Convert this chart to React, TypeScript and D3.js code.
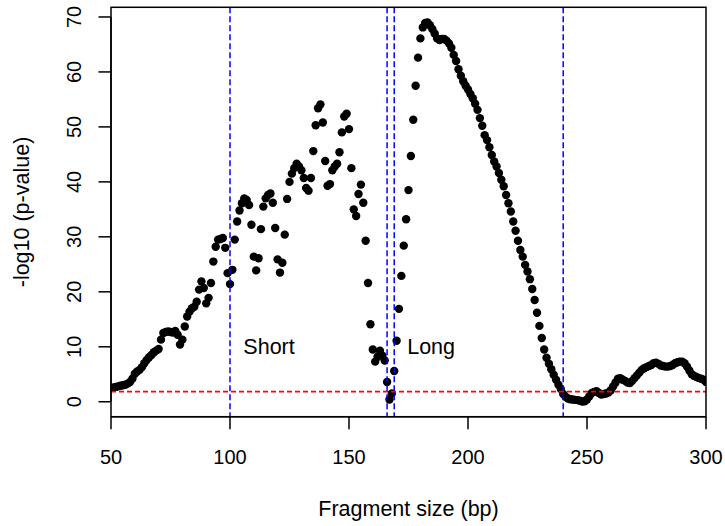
import React from "react";
import * as d3 from "d3";

// Fragment sizes (bp) and -log10(p-value)
const fragmentSizes = [
  50, 51, 52, 53, 54, 55, 56, 57, 58, 59, 60, 61, 62, 63, 64, 65, 66, 67, 68, 69,
  70, 71, 72, 73, 74, 75, 76, 77, 78, 79, 80, 81, 82, 83, 84, 85, 86, 87, 88, 89,
  90, 91, 92, 93, 94, 95, 96, 97, 98, 99, 100, 101, 102, 103, 104, 105, 106, 107, 108, 109,
  110, 111, 112, 113, 114, 115, 116, 117, 118, 119, 120, 121, 122, 123, 124, 125, 126, 127, 128, 129,
  130, 131, 132, 133, 134, 135, 136, 137, 138, 139, 140, 141, 142, 143, 144, 145, 146, 147, 148, 149,
  150, 151, 152, 153, 154, 155, 156, 157, 158, 159, 160, 161, 162, 163, 164, 165, 166, 167, 168, 169,
  170, 171, 172, 173, 174, 175, 176, 177, 178, 179, 180, 181, 182, 183, 184, 185, 186, 187, 188, 189,
  190, 191, 192, 193, 194, 195, 196, 197, 198, 199, 200, 201, 202, 203, 204, 205, 206, 207, 208, 209,
  210, 211, 212, 213, 214, 215, 216, 217, 218, 219, 220, 221, 222, 223, 224, 225, 226, 227, 228, 229,
  230, 231, 232, 233, 234, 235, 236, 237, 238, 239, 240, 241, 242, 243, 244, 245, 246, 247, 248, 249,
  250, 251, 252, 253, 254, 255, 256, 257, 258, 259, 260, 261, 262, 263, 264, 265, 266, 267, 268, 269,
  270, 271, 272, 273, 274, 275, 276, 277, 278, 279, 280, 281, 282, 283, 284, 285, 286, 287, 288, 289,
  290, 291, 292, 293, 294, 295, 296, 297, 298, 299, 300,
];

const negLog10P = [
  2.5, 2.6, 2.7, 2.8, 2.9, 3.0, 3.1, 3.3, 3.6, 4.2, 5.1, 5.5, 5.8, 6.3, 7.0, 7.6, 8.1, 8.5, 9.0, 9.3,
  9.6, 11.3, 12.5, 12.7, 12.8, 12.7, 12.6, 12.9, 12.2, 10.4, 11.3, 13.7, 15.5, 16.4, 17.0, 17.3, 18.2, 20.4, 21.9, 20.7,
  17.9, 18.9, 21.6, 25.5, 28.2, 29.5, 29.6, 29.8, 28.0, 23.4, 21.4, 24.0, 29.5, 32.8, 34.8, 36.1, 37.0, 36.7, 35.8, 32.2,
  26.4, 23.9, 26.1, 31.4, 35.5, 37.0, 37.6, 37.9, 36.2, 31.6, 25.9, 23.5, 25.3, 30.4, 36.9, 40.0, 41.5, 42.5, 43.3, 42.8,
  42.1, 40.7, 38.9, 38.4, 40.7, 45.6, 50.3, 53.4, 54.1, 50.8, 43.8, 39.3, 39.6, 42.1, 42.8, 43.3, 45.4, 49.0, 51.9, 52.4,
  49.6, 42.5, 35.0, 33.8, 37.8, 39.5, 36.2, 29.3, 21.6, 14.1, 9.5, 7.3, 8.2, 9.3, 8.4, 7.5, 3.6, 0.4, 1.5, 5.6,
  11.1, 16.9, 22.9, 28.4, 33.2, 38.5, 44.7, 51.3, 57.5, 62.6, 66.1, 68.1, 68.9, 69.0, 68.5, 67.8, 67.0, 66.1, 65.8, 66.0,
  66.0, 65.7, 65.2, 64.4, 63.1, 62.0, 60.5, 59.3, 58.3, 57.5, 56.8, 56.0, 55.2, 54.2, 53.1, 51.6, 50.2, 48.5, 47.6, 46.3,
  44.9, 43.7, 42.8, 41.6, 40.4, 39.2, 37.6, 36.1, 34.6, 32.8, 31.1, 29.3, 27.6, 26.4, 24.9, 23.7, 22.3, 20.5, 18.5, 16.2,
  13.8, 11.6, 9.5, 8.0, 6.9, 5.9, 4.9, 4.0, 3.1, 2.3, 1.4, 0.9, 0.6, 0.45, 0.4, 0.35, 0.3, 0.2, 0.04, 0.1,
  0.4, 1.0, 1.6, 1.8, 1.9, 1.6, 1.3, 1.4, 1.5, 1.7, 2.1, 2.8, 3.5, 4.2, 4.3, 4.0, 3.8, 3.5, 3.4, 3.8,
  4.3, 4.8, 5.3, 5.8, 6.1, 6.3, 6.5, 6.7, 7.0, 7.1, 6.9, 6.6, 6.5, 6.4, 6.4, 6.5, 6.7, 7.0, 7.2, 7.3,
  7.3, 7.0, 6.4, 5.7, 5.0, 4.7, 4.5, 4.3, 4.2, 4.0, 3.6,
];

const xTicks = [50, 100, 150, 200, 250, 300];
const yTicks = [0, 10, 20, 30, 40, 50, 60, 70];
const cutoffLines = [100, 166, 169, 240];
const significanceLevel = 1.85;
const regionLabels = ["Short", "Long"];
const regionLabelX = [116.4, 184.5];
const regionLabelY = [10, 10];

const xLabel = "Fragment size (bp)";
const yLabel = "-log10 (p-value)";

const W = 725;
const H = 526;
const plot = { left: 111, right: 706, top: 7.3, bottom: 416.7 };
const FONT = "'Liberation Sans', Arial, Helvetica, sans-serif";

export default function App() {
  const [minV, maxV] = d3.extent(negLog10P) as [number, number];
  const pad = (maxV - minV) * 0.04;
  const x = d3.scaleLinear().domain([50, 300]).range([plot.left, plot.right]);
  const y = d3
    .scaleLinear()
    .domain([minV - pad, maxV + pad])
    .range([plot.bottom, plot.top]);

  const tickLen = 12.5;

  return (
    <svg
      width={W}
      height={H}
      viewBox={`0 0 ${W} ${H}`}
      style={{ position: "absolute", left: 0, top: 0, display: "block", background: "#fff" }}
      fontFamily={FONT}
    >
      <defs>
        <clipPath id="plotClip">
          <rect
            x={plot.left}
            y={plot.top}
            width={plot.right - plot.left}
            height={plot.bottom - plot.top}
          />
        </clipPath>
      </defs>
      <rect x={0} y={0} width={W} height={H} fill="#fff" />

      <g clipPath="url(#plotClip)">
        {fragmentSizes.map((bp, i) => (
          <circle key={i} cx={x(bp)} cy={y(negLog10P[i])} r={4.2} fill="#000" />
        ))}
        {cutoffLines.map((c) => (
          <line
            key={c}
            x1={x(c)}
            x2={x(c)}
            y1={plot.top}
            y2={plot.bottom}
            stroke="#0000FF"
            strokeWidth={1.5}
            strokeDasharray="6,3"
          />
        ))}
        <line
          x1={plot.left}
          x2={plot.right}
          y1={y(significanceLevel)}
          y2={y(significanceLevel)}
          stroke="#FF0000"
          strokeWidth={1.6}
          strokeDasharray="5,3"
        />
      </g>

      {regionLabels.map((t, i) => (
        <text
          key={t}
          x={x(regionLabelX[i])}
          y={y(regionLabelY[i]) + 7.6}
          textAnchor="middle"
          fontSize={21.5}
          fill="#000"
        >
          {t}
        </text>
      ))}

      {/* box */}
      <rect
        x={plot.left}
        y={plot.top}
        width={plot.right - plot.left}
        height={plot.bottom - plot.top}
        fill="none"
        stroke="#000"
        strokeWidth={1.5}
      />

      {/* x axis */}
      <g>
        <line x1={x(50)} x2={x(300)} y1={plot.bottom} y2={plot.bottom} stroke="#000" strokeWidth={1.5} />
        {xTicks.map((t) => (
          <g key={t}>
            <line
              x1={x(t)}
              x2={x(t)}
              y1={plot.bottom}
              y2={plot.bottom + tickLen}
              stroke="#000"
              strokeWidth={1.5}
            />
            <text x={x(t)} y={464.3} textAnchor="middle" fontSize={20} fill="#000">
              {t}
            </text>
          </g>
        ))}
      </g>

      {/* y axis */}
      <g>
        <line x1={plot.left} x2={plot.left} y1={y(0)} y2={y(70)} stroke="#000" strokeWidth={1.5} />
        {yTicks.map((t) => (
          <g key={t}>
            <line
              x1={plot.left - tickLen}
              x2={plot.left}
              y1={y(t)}
              y2={y(t)}
              stroke="#000"
              strokeWidth={1.5}
            />
            <text
              transform={`translate(80.5, ${y(t)}) rotate(-90)`}
              textAnchor="middle"
              fontSize={20}
              fill="#000"
            >
              {t}
            </text>
          </g>
        ))}
      </g>

      <text x={(plot.left + plot.right) / 2} y={516} textAnchor="middle" fontSize={21.5} fill="#000">
        {xLabel}
      </text>
      <text
        transform={`translate(29, ${(plot.top + plot.bottom) / 2}) rotate(-90)`}
        textAnchor="middle"
        fontSize={21.5}
        fill="#000"
      >
        {yLabel}
      </text>
    </svg>
  );
}
